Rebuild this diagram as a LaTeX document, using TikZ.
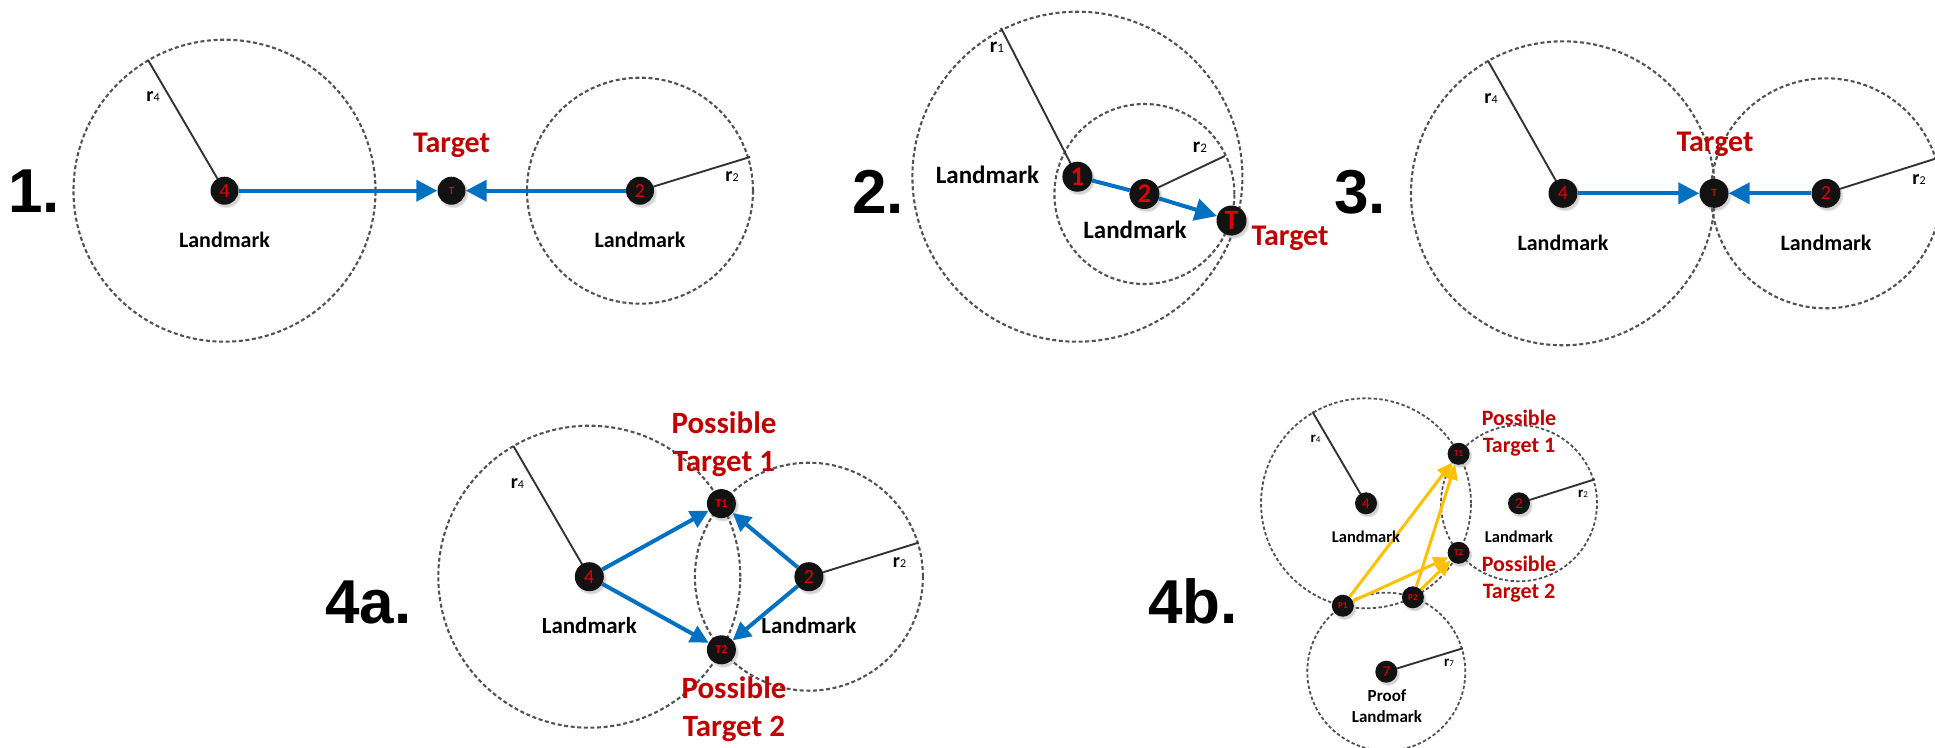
\documentclass[tikz,border=0pt]{standalone}
\usepackage{fontspec}
\setmainfont{Carlito}
\newfontfamily\headfont{Liberation Sans}
\usetikzlibrary{arrows.meta,shadows}

\definecolor{tgtred}{HTML}{C00000}
\definecolor{digitred}{HTML}{E00000}
\definecolor{arrowblue}{HTML}{0070C0}
\definecolor{arrowgold}{HTML}{FFC000}

% radius label: r with a small index digit
\newcommand\rlab[3]{{\bfseries\fontsize{#1}{#1}\selectfont r}{\fontsize{#2}{#2}\selectfont #3}}

\tikzset{
  zone/.style={draw=black!68, line width=2.1pt, dash pattern=on 4pt off 2.6pt},
  rline/.style={draw=black!80, line width=1.9pt},
  site/.style={circle, fill=black!93, inner sep=0pt, minimum size=#1, text=digitred,
    circular drop shadow={shadow xshift=1.5pt, shadow yshift=-2pt, opacity=0.35}},
  panelnum/.style={font=\headfont\bfseries\fontsize{62}{62}\selectfont, anchor=base west, inner sep=0pt},
  lm/.style={inner sep=0pt, font=\bfseries\fontsize{#1}{#1}\selectfont},
  tgt/.style 2 args={inner sep=0pt, text=tgtred, align=center, font=\bfseries\fontsize{#1}{#2}\selectfont},
  rtext/.style={inner sep=0pt},
  barrow/.style={draw=arrowblue, line width=4pt, -{Triangle[length=#1, width=#1]}},
  barrow/.default=21pt,
  garrow/.style={draw=arrowgold, line width=3pt, -{Triangle[length=15pt, width=14pt]}},
}

\begin{document}
\begin{tikzpicture}[x=1pt,y=-1pt]
\useasboundingbox (0,0) rectangle (1935,747);
\clip (0,0) rectangle (1935,747);

% ---------------- 1. ----------------
\node[panelnum] (n1) at (8,212) {1.};
\coordinate (A4) at (224.5,190.7);
\coordinate (A2) at (640,190.7);
\coordinate (AT) at (451.5,190.7);
\coordinate (A4r) at (148,60);
\coordinate (A2r) at (750,157);
\draw[zone] (A4) circle[radius=151pt];
\draw[zone] (A2) circle[radius=113pt];
\draw[rline] (A4) -- (A4r);
\draw[rline] (A2) -- (A2r);
\node[site=28pt, font=\fontsize{20}{20}\selectfont] (a4) at (A4) {4};
\node[site=28pt, font=\fontsize{20}{20}\selectfont] (a2) at (A2) {2};
\node[site=28pt, font=\bfseries\fontsize{11}{11}\selectfont] (aT) at (AT) {T};
\draw[barrow] (a4) -- (aT);
\draw[barrow] (a2) -- (aT);
\node[lm=22] (al4) at (224.5,240) {Landmark};
\node[lm=22] (al2) at (640,240) {Landmark};
\node[tgt={30}{36}] (atg) at (451.5,145) {Target};
\node[rtext] (ar4) at (153,97) {\rlab{20}{12}{4}};
\node[rtext] (ar2) at (732,177) {\rlab{20}{12}{2}};

% ---------------- 2. ----------------
\node[panelnum] (n2) at (852,213) {2.};
\coordinate (B1) at (1077.4,176.7);
\coordinate (B2) at (1144.4,194);
\coordinate (BT) at (1231.5,220.5);
\coordinate (B1r) at (1001,28);
\coordinate (B2r) at (1224.8,156);
\draw[zone] (B1) circle[radius=165pt];
\draw[zone] (B2) circle[radius=90pt];
\draw[rline] (B1) -- (B1r);
\draw[rline] (B2) -- (B2r);
\node[site=30pt, font=\bfseries\fontsize{27}{27}\selectfont] (b1) at (B1) {1};
\node[site=30pt, font=\bfseries\fontsize{27}{27}\selectfont] (b2) at (B2) {2};
\node[site=30pt, font=\bfseries\fontsize{28}{28}\selectfont] (bT) at (BT) {T};
\draw[draw=arrowblue, line width=4pt] (b1) -- (b2);
\draw[barrow=22pt] (b2) -- (bT);
\node[lm=25] (bl1) at (987.5,175) {Landmark};
\node[lm=25] (bl2) at (1135,230) {Landmark};
\node[tgt={30}{36}] (btg) at (1290,238) {Target};
\node[rtext] (br1) at (997,47) {\rlab{21}{13}{1}};
\node[rtext] (br2) at (1200,147) {\rlab{21}{13}{2}};

% ---------------- 3. ----------------
\node[panelnum] (n3) at (1334,213) {3.};
\coordinate (C4) at (1563,193.3);
\coordinate (C2) at (1826,193.3);
\coordinate (CT) at (1714,193.3);
\coordinate (C4r) at (1488,60.8);
\coordinate (C2r) at (1935.7,158.6);
\draw[zone] (C4) circle[radius=152pt];
\draw[zone] (C2) circle[radius=115pt];
\draw[rline] (C4) -- (C4r);
\draw[rline] (C2) -- (C2r);
\node[site=29pt, font=\fontsize{20}{20}\selectfont] (c4) at (C4) {4};
\node[site=29pt, font=\fontsize{20}{20}\selectfont] (c2) at (C2) {2};
\node[site=29pt, font=\bfseries\fontsize{11}{11}\selectfont] (cT) at (CT) {T};
\draw[barrow] (c4) -- (cT);
\draw[barrow] (c2) -- (cT);
\node[lm=22] (cl4) at (1563,242.7) {Landmark};
\node[lm=22] (cl2) at (1826,242.7) {Landmark};
\node[tgt={30}{36}] (ctg) at (1715,144) {Target};
\node[rtext] (cr4) at (1491,99) {\rlab{20}{12}{4}};
\node[rtext] (cr2) at (1919,180) {\rlab{20}{12}{2}};

% ---------------- 4a. ----------------
\node[panelnum] (n4a) at (325,623) {4a.};
\coordinate (D4) at (589.3,576.7);
\coordinate (D2) at (808.9,576.7);
\coordinate (DT1) at (721.4,503.6);
\coordinate (DT2) at (721.4,649.8);
\coordinate (D4r) at (513.4,446);
\coordinate (D2r) at (918.3,542.7);
\draw[zone] (D4) circle[radius=151pt];
\draw[zone] (D2) circle[radius=114pt];
\draw[rline] (D4) -- (D4r);
\draw[rline] (D2) -- (D2r);
\node[site=29pt, font=\fontsize{20}{20}\selectfont] (d4) at (D4) {4};
\node[site=29pt, font=\fontsize{20}{20}\selectfont] (d2) at (D2) {2};
\node[site=29pt, font=\bfseries\fontsize{12}{12}\selectfont] (dT1) at (DT1) {T1};
\node[site=29pt, font=\bfseries\fontsize{12}{12}\selectfont] (dT2) at (DT2) {T2};
\draw[barrow=18pt] (d4) -- (dT1);
\draw[barrow=18pt] (d4) -- (dT2);
\draw[barrow=18pt] (d2) -- (dT1);
\draw[barrow=18pt] (d2) -- (dT2);
\node[lm=23] (dl4) at (589.3,626) {Landmark};
\node[lm=23] (dl2) at (808.9,626) {Landmark};
\node[tgt={31}{38}] (dtg1) at (724,444) {Possible\\Target 1};
\node[tgt={31}{38}] (dtg2) at (734,709) {Possible\\Target 2};
\node[rtext] (dr4) at (517.4,483.3) {\rlab{20}{12}{4}};
\node[rtext] (dr2) at (899.5,562.7) {\rlab{20}{12}{2}};

% ---------------- 4b. ----------------
\node[panelnum] (n4b) at (1148,623) {4b.};
\coordinate (E4) at (1366,503.3);
\coordinate (E2) at (1519,503.3);
\coordinate (E7) at (1386.3,671.7);
\coordinate (ET1) at (1458.6,453.8);
\coordinate (ET2) at (1458.6,552.8);
\coordinate (EP1) at (1342.8,605.7);
\coordinate (EP2) at (1412.9,597.3);
\coordinate (E4r) at (1312.4,411.7);
\coordinate (E2r) at (1594.8,479.3);
\coordinate (E7r) at (1462.8,648.3);
\draw[zone, line width=1.8pt, dash pattern=on 3.4pt off 2.3pt] (E4) circle[radius=105pt];
\draw[zone, line width=1.8pt, dash pattern=on 3.4pt off 2.3pt] (E2) circle[radius=78pt];
\draw[zone, line width=1.8pt, dash pattern=on 3.4pt off 2.3pt] (E7) circle[radius=79pt];
\draw[rline] (E4) -- (E4r);
\draw[rline] (E2) -- (E2r);
\draw[rline] (E7) -- (E7r);
\node[site=22pt, font=\fontsize{15}{15}\selectfont] (e4) at (E4) {4};
\node[site=22pt, font=\fontsize{15}{15}\selectfont] (e2) at (E2) {2};
\node[site=22pt, font=\fontsize{15}{15}\selectfont] (e7) at (E7) {7};
\node[site=22pt, font=\bfseries\fontsize{9}{9}\selectfont] (eT1) at (ET1) {T1};
\node[site=22pt, font=\bfseries\fontsize{9}{9}\selectfont] (eT2) at (ET2) {T2};
\node[site=22pt, font=\bfseries\fontsize{9}{9}\selectfont] (eP1) at (EP1) {P1};
\node[site=22pt, font=\bfseries\fontsize{9}{9}\selectfont] (eP2) at (EP2) {P2};
\draw[garrow] (eP1) -- (eT1);
\draw[garrow] (eP1) -- (eT2);
\draw[garrow] (eP2) -- (eT1);
\draw[garrow] (eP2) -- (eT2);
\node[lm=16.5] (el4) at (1366,536.7) {Landmark};
\node[lm=16.5] (el2) at (1519,536.7) {Landmark};
\node[inner sep=0pt, align=center, font=\bfseries\fontsize{17}{21.5}\selectfont] (el7) at (1387,706) {Proof\\Landmark};
\node[tgt={22}{27}] (etg1) at (1519,433) {Possible\\Target 1};
\node[tgt={22}{27}] (etg2) at (1519,579) {Possible\\Target 2};
\node[rtext] (er4) at (1315.5,438.3) {\rlab{15}{9}{4}};
\node[rtext] (er2) at (1583,493.3) {\rlab{15}{9}{2}};
\node[rtext] (er7) at (1449,662.7) {\rlab{15}{9}{7}};
\end{tikzpicture}
\end{document}
